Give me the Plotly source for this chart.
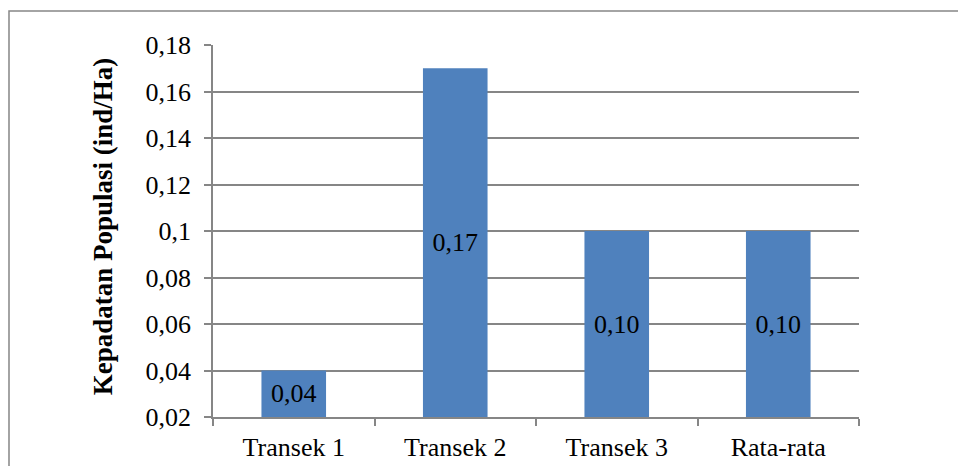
import plotly.graph_objects as go

# Population density per transect
categories = ["Transek 1", "Transek 2", "Transek 3", "Rata-rata"]
density = [0.04, 0.17, 0.10, 0.10]
density_labels = ["0,04", "0,17", "0,10", "0,10"]

y_min, y_max = 0.02, 0.18
tick_values = [0.02, 0.04, 0.06, 0.08, 0.10, 0.12, 0.14, 0.16, 0.18]
tick_labels = ["0,02", "0,04", "0,06", "0,08", "0,1", "0,12", "0,14", "0,16", "0,18"]
y_title = "Kepadatan Populasi (ind/Ha)"

FONT = "Liberation Serif, Times New Roman, serif"
GRID = "#868686"
BAR = "#4F81BD"

fig = go.Figure(
    go.Bar(
        x=categories,
        base=y_min,
        y=[v - y_min for v in density],
        text=density_labels,
        textposition="inside",
        insidetextanchor="middle",
        textfont=dict(family=FONT, size=26, color="black"),
        marker=dict(color=BAR, line=dict(width=0)),
        hovertext=density_labels,
        hoverinfo="x+text",
    )
)

fig.update_layout(
    width=958,
    height=466,
    margin=dict(l=213, r=99, t=45, b=49),
    paper_bgcolor="white",
    plot_bgcolor="white",
    bargap=0.6,
    showlegend=False,
    font=dict(family=FONT, size=26, color="black"),
)

fig.update_xaxes(
    automargin=False,
    showline=True,
    linecolor=GRID,
    linewidth=1.5,
    ticks="outside",
    tickson="boundaries",
    ticklen=7,
    tickcolor=GRID,
    tickwidth=1.5,
    ticklabelstandoff=6,
    showgrid=False,
    tickfont=dict(family=FONT, size=26, color="black"),
)

fig.update_yaxes(
    automargin=False,
    range=[y_min, y_max],
    tickvals=tick_values,
    ticktext=tick_labels,
    showline=True,
    linecolor=GRID,
    linewidth=1.5,
    ticks="outside",
    ticklen=7,
    tickcolor=GRID,
    tickwidth=1.5,
    ticklabelstandoff=8,
    showgrid=True,
    gridcolor=GRID,
    gridwidth=1.5,
    zeroline=False,
    tickfont=dict(family=FONT, size=26, color="black"),
)

# Vertical axis title
fig.add_annotation(
    text=f"<b>{y_title}</b>",
    xref="paper", yref="paper",
    x=-0.170, y=0.513,
    xanchor="center", yanchor="middle",
    textangle=-90,
    showarrow=False,
    font=dict(family=FONT, size=27, color="black"),
)

# Outer chart frame
fig.add_shape(
    type="rect",
    xref="paper", yref="paper",
    x0=-0.3158, x1=1.16, y0=-0.15, y1=1.0914,
    line=dict(color=GRID, width=1.5),
    fillcolor="rgba(0,0,0,0)",
    layer="below",
)

fig.write_html("out.html")
